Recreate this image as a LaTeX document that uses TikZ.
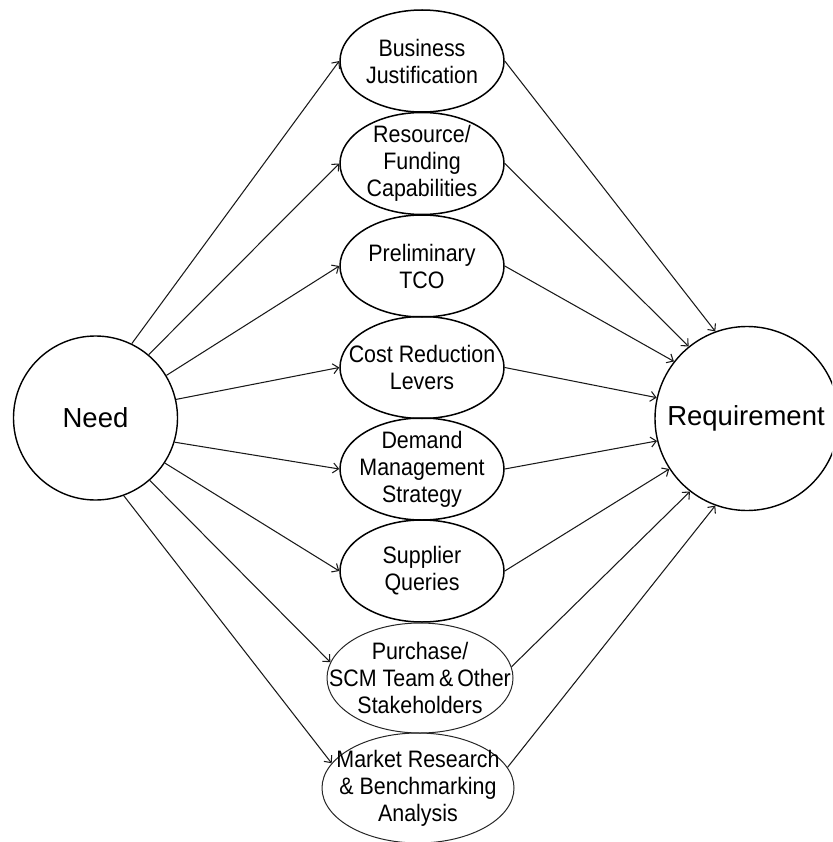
\documentclass[tikz,border=0pt]{standalone}
\usepackage{fontspec}
\setmainfont{Liberation Sans}
\newfontfamily\condfont[FakeStretch=0.9]{Liberation Sans}
\usetikzlibrary{shapes.geometric,arrows.meta}
\tikzset{
  bigcirc/.style={circle,draw=black,line width=1.4pt,inner sep=0pt},
  ell/.style={ellipse,draw=black,line width=1.5pt,inner sep=0pt,minimum width=164pt,minimum height=102pt},
  ellthin/.style={ellipse,draw=black!85,line width=1pt,inner sep=0pt},
  eltext/.style={align=center,inner sep=0pt,font=\condfont\fontsize{23.8}{27}\selectfont},
  bigtext/.style={inner sep=0pt,font=\fontsize{27.5}{30}\selectfont},
  conn/.style={draw=black!90,line width=1.05pt,-{Straight Barb[length=5.5pt,width=10pt]}}
}
\begin{document}
\begin{tikzpicture}[x=1pt,y=-1pt]
\useasboundingbox (0,0) rectangle (832,842);
\begin{scope}
\clip (0,0) rectangle (832,842);
% big circles
\node[bigcirc,minimum size=164pt] (need) at (95.5,418) {};
\node[bigtext] (needt) at (need) {Need};
\node[bigcirc,minimum size=184pt] (req) at (747,418.5) {};
\node[bigtext] (reqt) at (746,418.5) {Requirement};
% ellipses
\node[ell] (e1) at (422,61) {};
\node[ell] (e2) at (422,163.5) {};
\node[ell] (e3) at (422,266) {};
\node[ell] (e4) at (422,367.5) {};
\node[ell] (e5) at (422,469) {};
\node[ell] (e6) at (422,571) {};
\node[ellthin,minimum width=186pt,minimum height=110pt] (e7) at (420,678) {};
\node[ellthin,minimum width=192pt,minimum height=110pt] (e8) at (418,788) {};
\node[eltext] (t1) at (e1) {Business\\Justification};
\node[eltext] (t2) at (e2) {Resource/\\Funding\\Capabilities};
\node[eltext] (t3) at (e3) {Preliminary\\TCO};
\node[eltext] (t4) at (e4) {Cost Reduction\\Levers};
\node[eltext] (t5) at (e5) {Demand\\Management\\Strategy};
\node[eltext] (t6) at (e6) {Supplier\\Queries};
\node[eltext] (t7) at (e7) {Purchase/\\SCM Team\,\&\,Other\\Stakeholders};
\node[eltext] (t8) at (e8) {Market Research\\\&~Benchmarking\\Analysis};
% connectors from Need
\draw[conn] (need.64) -- (e1.west);
\draw[conn] (need.50) -- (e2.west);
\draw[conn] (need.31) -- (e3.west);
\draw[conn] (need.13) -- (e4.west);
\draw[conn] (need.-17) -- (e5.west);
\draw[conn] (need.-33) -- (e6.west);
\draw[conn] (need.-49) -- (e7.170);
\draw[conn] (need.-70) -- (e8.164);
% connectors to Requirement
\draw[conn] (e1.east) -- (req.110);
\draw[conn] (e2.east) -- (req.129);
\draw[conn] (e3.east) -- (req.142);
\draw[conn] (e4.east) -- (req.167);
\draw[conn] (e5.east) -- (req.194);
\draw[conn] (e6.east) -- (req.213);
\draw[conn] (e7.7) -- (req.232);
\draw[conn] (e8.13) -- (req.250);
\end{scope}
\end{tikzpicture}
\end{document}
